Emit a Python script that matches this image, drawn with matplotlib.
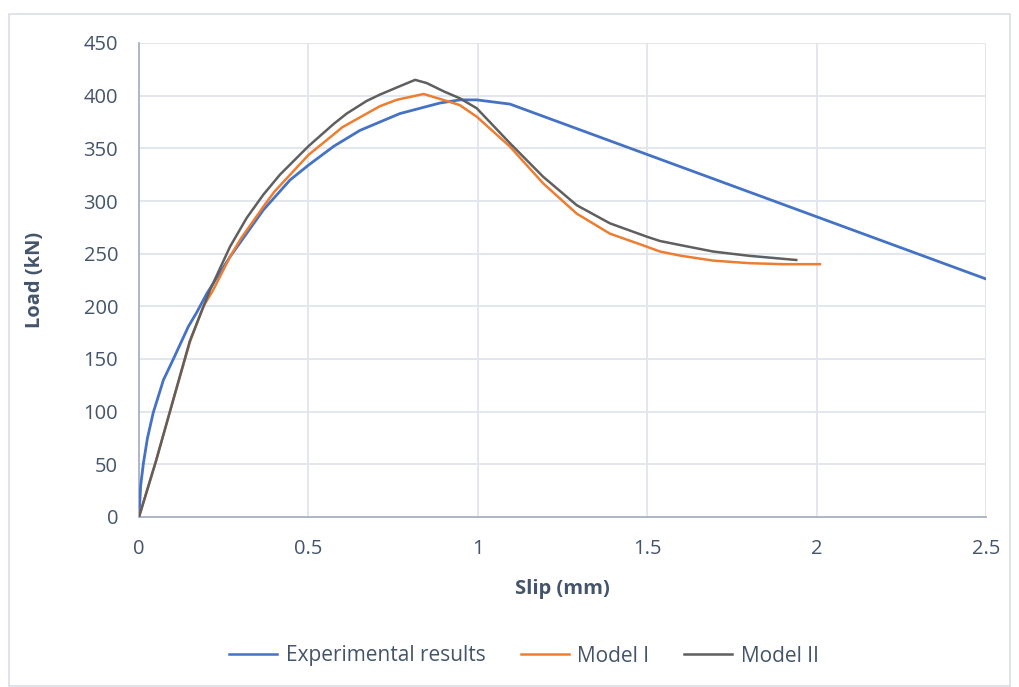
import matplotlib
matplotlib.use("Agg")
import matplotlib.pyplot as plt
from matplotlib.patches import Rectangle
from matplotlib.lines import Line2D

plt.rcParams['font.family'] = ['Open Sans', 'DejaVu Sans']

# Experimental results
exp_slip = [0, 0.005, 0.013, 0.025, 0.042, 0.072, 0.10, 0.146, 0.17, 0.20, 0.2686, 0.367,
            0.446, 0.50, 0.575, 0.652, 0.711, 0.77, 0.888, 0.947, 0.997, 1.095, 2.5]
exp_load = [0, 30, 51, 75, 99, 130, 149, 181, 194, 212, 247, 291.5,
            320, 334, 352, 367, 375, 383, 393, 396, 396, 392, 226]

# Model I
m1_slip = [0, 0.05, 0.10, 0.15, 0.19, 0.219, 0.2686, 0.30, 0.367, 0.40, 0.50, 0.57, 0.60,
           0.672, 0.711, 0.76, 0.84, 0.918, 0.947, 0.997, 1.095, 1.193, 1.292, 1.39,
           1.499, 1.538, 1.60, 1.695, 1.80, 1.90, 2.01]
m1_load = [0, 53, 110, 166, 200, 215.5, 247, 264, 294.6, 309, 343.7, 362, 370,
           383, 390, 396, 401.6, 394, 391, 380, 351.6, 316.7, 288, 269,
           256.6, 252, 248, 243.4, 241, 240, 240]

# Model II
m2_slip = [0, 0.05, 0.10, 0.15, 0.2096, 0.2686, 0.318, 0.367, 0.416, 0.50, 0.574, 0.613,
           0.672, 0.711, 0.77, 0.815, 0.849, 0.90, 0.947, 0.997, 1.095, 1.193, 1.292,
           1.39, 1.50, 1.538, 1.60, 1.695, 1.80, 1.94]
m2_load = [0, 53, 110, 167, 215.5, 256.6, 284, 306, 325, 352, 373, 383,
           395, 401, 409, 415, 412, 404, 397.5, 388, 354.8, 323, 296,
           278.8, 266, 262, 258, 252, 248, 244]

x_ticks = [0, 0.5, 1, 1.5, 2, 2.5]
x_tick_labels = ['0', '0.5', '1', '1.5', '2', '2.5']
y_ticks = list(range(0, 451, 50))

series_names = ['Experimental results', 'Model I', 'Model II']
colors = ['#4472C4', '#ED7D31', '#5F5F5F']
text_color = '#44546A'
grid_color = '#E1E5EC'
spine_color = '#A9B2C3'

W, H = 1019, 687
fig = plt.figure(figsize=(W / 100, H / 100), dpi=100)
fig.patch.set_facecolor('white')
fig.patches.append(Rectangle((9 / W, 1 - 686 / H), (1010 - 9) / W, (686 - 14) / H,
                             transform=fig.transFigure, fill=False,
                             edgecolor='#D9DEE6', linewidth=1.2))

ax = fig.add_axes([139 / W, 1 - 517 / H, (986 - 139) / W, (517 - 43) / H])
ax.plot(exp_slip, exp_load, color=colors[0], lw=2.0, solid_joinstyle='round', zorder=3)
ax.plot(m1_slip, m1_load, color=colors[1], lw=1.8, solid_joinstyle='round', zorder=4)
ax.plot(m2_slip, m2_load, color=colors[2], lw=1.8, solid_joinstyle='round', zorder=5)

ax.set_xlim(0, 2.5)
ax.set_ylim(0, 450)
ax.set_xticks(x_ticks)
ax.set_xticklabels(x_tick_labels)
ax.set_yticks(y_ticks)
ax.grid(True, color=grid_color, lw=1.3)
ax.set_axisbelow(True)
for s in ['top', 'right']:
    ax.spines[s].set_visible(False)
for s in ['left', 'bottom']:
    ax.spines[s].set_color(spine_color)
    ax.spines[s].set_linewidth(1.3)
ax.tick_params(axis='y', length=0, labelsize=14.5, labelcolor=text_color, pad=15)
ax.tick_params(axis='x', length=0, labelsize=14.5, labelcolor=text_color, pad=15.5)
ax.set_xlabel('Slip (mm)', fontsize=14.5, fontweight='bold', color=text_color, labelpad=15)
ax.set_ylabel('Load (kN)', fontsize=14.5, fontweight='bold', color=text_color, labelpad=28)

handles = [Line2D([0], [0], color=c, lw=1.8) for c in colors]
fig.legend(handles, series_names, loc='center', bbox_to_anchor=(524 / W, 1 - 656 / H),
           ncol=3, frameon=False, fontsize=15, labelcolor=text_color,
           handlelength=2.3, handletextpad=0.4, columnspacing=1.7)

fig.savefig('out.png', dpi=100)
